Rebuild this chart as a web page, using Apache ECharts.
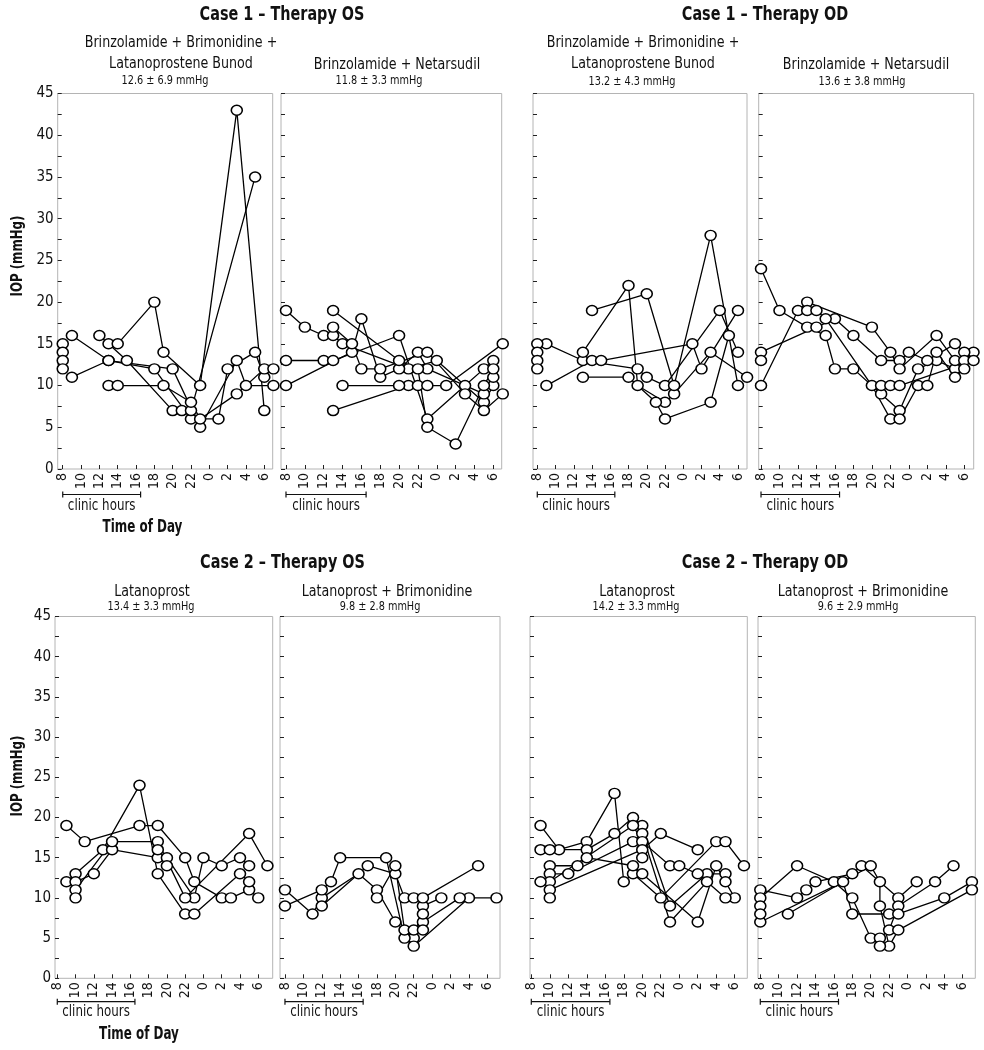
<!DOCTYPE html>
<html><head><meta charset="utf-8">
<script src="https://cdn.jsdelivr.net/npm/echarts@6/dist/echarts.min.js"></script>
<style>html,body{margin:0;padding:0;background:#fff}#c{width:984px;height:1050px}</style>
</head><body><div id="c"></div>
<script>
// ---------- tick labels / categories ----------
const hourTicks = [8,10,12,14,16,18,20,22,24,26,28,30];
const hourTickLabels = ['8','10','12','14','16','18','20','22','0','2','4','6'];
const clinicHours = [8, 16.5];
const caseTitles = ['Case 1 – Therapy OS','Case 1 – Therapy OD','Case 2 – Therapy OS','Case 2 – Therapy OD'];
const panelTitles = [
  ['Brinzolamide + Brimonidine +','Latanoprostene Bunod'],
  ['Brinzolamide + Netarsudil'],
  ['Brinzolamide + Brimonidine +','Latanoprostene Bunod'],
  ['Brinzolamide + Netarsudil'],
  ['Latanoprost'],
  ['Latanoprost + Brimonidine'],
  ['Latanoprost'],
  ['Latanoprost + Brimonidine']
];
const panelStats = ['12.6 ± 6.9 mmHg','11.8 ± 3.3 mmHg','13.2 ± 4.3 mmHg','13.6 ± 3.8 mmHg',
                    '13.4 ± 3.3 mmHg','9.8 ± 2.8 mmHg','14.2 ± 3.3 mmHg','9.6 ± 2.9 mmHg'];

// ---------- data: [hour (24 = midnight), IOP mmHg] ----------
const c1OsBblLines = [
  [[9,16],[13,13],[18,12],[22,6],[25,6],[26,12],[29,14],[30,11]],
  [[9,11],[13,13],[20,12],[23,5],[27,13],[28,10],[31,10]],
  [[13,15],[14,15],[18,20],[19,14],[23,10],[27,43],[30,7]],
  [[12,16],[15,13],[20,7],[21,7],[22,7],[29,35]],
  [[13,10],[14,10],[19,10],[22,8],[23,6],[27,9],[30,12],[31,12]]
];
const c1OsBblSingles = [[8,15],[8,14],[8,13],[8,12]];

const c1OsBnLines = [
  [[8,19],[10,17],[12,16],[13,16],[14,15],[21,12],[24,13],[29,8],[30,10]],
  [[8,13],[12,13],[13,13],[20,16],[23,6],[27,10],[29,12],[30,13]],
  [[8,10],[15,14],[16,18],[18,11],[20,12],[22,14],[23,12],[29,9],[30,11]],
  [[13,19],[20,13],[22,12],[23,5],[26,3],[29,10],[30,12]],
  [[13,17],[15,15],[16,12],[18,12],[23,14],[27,9],[29,7],[31,9]],
  [[13,7],[21,10],[22,10],[23,10],[25,10],[31,15]],
  [[14,10],[20,10]]
];
const c1OsBnSingles = [];

const c1OdBblLines = [
  [[9,15],[13,13],[19,12],[20,11],[22,10],[28,19],[30,14]],
  [[9,10],[14,13],[15,13],[25,15],[26,12],[30,19]],
  [[13,14],[18,22],[19,10],[22,8],[23,9],[27,14],[31,11]],
  [[14,19],[20,21],[23,10],[27,28],[30,10]],
  [[13,11],[18,11],[21,8],[22,6],[27,8],[29,16]]
];
const c1OdBblSingles = [[8,15],[8,14],[8,13],[8,12]];

const c1OdBnLines = [
  [[8,24],[10,19],[13,17],[15,16],[16,12],[18,12],[21,9],[23,7],[25,12],[27,13],[29,12],[31,14]],
  [[8,14],[14,17],[16,18],[18,16],[21,13],[23,13],[24,14],[26,13],[29,15],[30,14]],
  [[8,10],[12,19],[13,20],[20,17],[22,14],[23,12],[27,16],[29,13],[30,13]],
  [[13,19],[14,19],[15,18],[20,10],[22,6],[23,6],[25,10],[26,10],[27,14],[29,11],[30,12]],
  [[21,10],[22,10],[23,10],[31,13]]
];
const c1OdBnSingles = [[8,13]];

const c2OsLatLines = [
  [[9,19],[11,17],[17,19],[19,19],[22,15],[23,12],[26,10],[27,10],[29,11],[30,10]],
  [[9,12],[10,13],[13,16],[17,24],[19,13],[22,8],[23,8],[28,13],[29,12]],
  [[10,12],[12,13],[14,16],[19,15],[20,15],[23,10],[24,15],[26,14],[28,15],[29,14]],
  [[10,11],[14,17],[19,17],[22,10],[29,18],[31,14]],
  [[19,16],[20,14]]
];
const c2OsLatSingles = [[10,10]];

const c2OsLbLines = [
  [[8,11],[11,8],[12,10],[16,13],[18,11],[20,7],[22,5],[23,9],[25,10]],
  [[8,9],[12,11],[13,12],[14,15],[19,15],[21,5],[22,4],[28,10],[31,10]],
  [[12,9],[17,14],[20,13],[21,10],[22,10],[23,10],[29,14]],
  [[18,10],[20,14],[21,6],[22,6],[23,7],[27,10]]
];
const c2OsLbSingles = [[23,8],[23,6]];

const c2OdLatLines = [
  [[9,19],[11,16],[14,17],[17,23],[18,12],[19,13],[22,10],[28,17],[29,17],[31,14]],
  [[9,16],[10,16],[14,16],[17,18],[19,20],[20,19],[23,9],[27,13],[29,13]],
  [[10,14],[13,14],[14,15],[19,14],[20,13],[26,7],[28,14],[29,12],[30,10]],
  [[10,13],[12,13],[19,17],[20,18],[23,7],[27,12],[29,10]],
  [[10,12],[19,19],[20,17],[23,14],[24,14],[26,13]],
  [[10,11],[20,16],[22,18],[26,16]]
];
const c2OdLatSingles = [[9,12],[10,10],[20,15]];

const c2OdLbLines = [
  [[8,11],[12,10],[13,11],[14,12],[18,13],[19,14],[23,10],[25,12]],
  [[8,10],[12,14],[16,12],[18,10],[20,5],[21,5],[22,6],[23,9],[27,12],[29,14]],
  [[8,7],[17,12],[18,8],[22,8],[23,8],[28,10],[31,12]],
  [[11,8],[20,14],[21,12],[21,9],[22,4],[23,6],[31,11]]
];
const c2OdLbSingles = [[8,9],[8,8],[21,4]];

const panelLines = [c1OsBblLines,c1OsBnLines,c1OdBblLines,c1OdBnLines,c2OsLatLines,c2OsLbLines,c2OdLatLines,c2OdLbLines];
const panelSingles = [c1OsBblSingles,c1OsBnSingles,c1OdBblSingles,c1OdBnSingles,c2OsLatSingles,c2OsLbSingles,c2OdLatSingles,c2OdLbSingles];

// ---------- layout ----------
const FONT = "'Liberation Sans Narrow','DejaVu Sans Condensed','Roboto',sans-serif";
const grids = [
  {left:57.7, top:93.5, width:215,   height:375.5, xmin:7.45, xmax:30.92},
  {left:281,  top:93.5, width:220.7, height:375.5, xmin:7.47, xmax:30.89},
  {left:533,  top:93.5, width:214,   height:375.5, xmin:7.53, xmax:30.99},
  {left:758.7,top:93.5, width:215,   height:375.5, xmin:7.75, xmax:31.02},
  {left:55,   top:616.5,width:217.7, height:361.8, xmin:7.75, xmax:31.58},
  {left:280,  top:616.5,width:220,   height:361.8, xmin:7.46, xmax:31.38},
  {left:530,  top:616.5,width:217.3, height:361.8, xmin:7.86, xmax:31.36},
  {left:758,  top:616.5,width:217.3, height:361.8, xmin:7.75, xmax:31.37}
];
const titlePos = [[282,15],[765,15],[282.5,563],[765,563]];
const subPos = [ // [x of title, y of first line, x of stats, y of stats]
  [181,43,165,81],[397,65,379,81],[643,43,632,82],[866,65,862,82],
  [152,592,151,607],[387,592,380,607],[637,592,636,607],[863,592,858,607]
];

const chart = echarts.init(document.getElementById('c'), null, {renderer:'canvas'});
const option = {
  animation:false,
  backgroundColor:'#fff',
  grid: grids.map(g => ({left:g.left, top:g.top, width:g.width, height:g.height, show:true, borderColor:'#b4b4b4', borderWidth:1, containLabel:false})),
  xAxis: grids.map((g,i) => ({
    type:'value', gridIndex:i, min:g.xmin, max:g.xmax,
    axisLine:{show:false},
    splitLine:{show:false},
    axisTick:{show:true, inside:true, length:4, lineStyle:{color:'#222', width:1}, customValues:hourTicks},
    axisLabel:{show:true, rotate:90, margin:4, fontSize:14, fontFamily:FONT, color:'#111', customValues:hourTicks,
      formatter: v => hourTickLabels[hourTicks.indexOf(Math.round(v))] ?? ''}
  })),
  yAxis: grids.map((g,i) => ({
    type:'value', gridIndex:i, min:0, max:45, interval:2.5,
    axisLine:{show:false},
    splitLine:{show:false},
    axisTick:{show:true, inside:true, length:4, lineStyle:{color:'#222', width:1}},
    axisLabel:{show: i===0 || i===4, margin:4, fontSize:15, fontFamily:FONT, color:'#111',
      formatter: v => (Math.abs(v % 5) < 1e-6 ? String(v) : '')}
  })),
  series: []
};
panelLines.forEach((lines, i) => {
  lines.forEach(line => {
    option.series.push({type:'line', xAxisIndex:i, yAxisIndex:i, data:line, symbol:'none',
      clip:false, z:2, silent:true, lineStyle:{color:'#000', width:1.3}});
  });
  const pts = lines.flat().concat(panelSingles[i]);
  option.series.push({type:'scatter', xAxisIndex:i, yAxisIndex:i, data:pts, symbol:'circle',
    symbolSize:[11,10], clip:false, z:3, silent:true,
    itemStyle:{color:'#fff', borderColor:'#000', borderWidth:1.5, opacity:1}});
});
chart.setOption(option);

// ---------- text & annotations ----------
function txt(x, y, s, size, bold, sx, extra) {
  return Object.assign({type:'text', x:x, y:y, scaleX:sx || 1, silent:true, style:{text:s, fontSize:size, fontFamily:FONT,
    fontWeight: bold ? 'bold' : 'normal', fill:'#111', align:'center', verticalAlign:'middle',
    textAlign:'center', textVerticalAlign:'middle'}}, extra || {});
}
const gfx = [];
caseTitles.forEach((t,i) => gfx.push(txt(titlePos[i][0], titlePos[i][1], t, 20, true, 0.8)));
panelTitles.forEach((lines,i) => {
  const p = subPos[i];
  gfx.push(txt(p[0], p[1], lines[0], 16, false, 0.88));
  if (lines.length === 2) gfx.push(txt(p[0], p[1]+20.5, lines[1], 16, false, 0.88));
  gfx.push(txt(p[2], p[3], panelStats[i], 12, false, 0.9));
});
// IOP axis titles
gfx.push(txt(17.5, 256, 'IOP (mmHg)', 16, true, 0.82, {rotation: Math.PI/2}));
gfx.push(txt(17.5, 776, 'IOP (mmHg)', 16, true, 0.82, {rotation: Math.PI/2}));
// clinic hours brackets
grids.forEach((g,i) => {
  const a = chart.convertToPixel({xAxisIndex:i, yAxisIndex:i}, [clinicHours[0], 0]);
  const b = chart.convertToPixel({xAxisIndex:i, yAxisIndex:i}, [clinicHours[1], 0]);
  const by = i < 4 ? 494.5 : 1001.7;
  const ty = i < 4 ? 506.5 : 1012;
  const ls = {stroke:'#111', lineWidth:1.2};
  gfx.push({type:'line', silent:true, shape:{x1:a[0], y1:by, x2:b[0], y2:by}, style:ls});
  gfx.push({type:'line', silent:true, shape:{x1:a[0], y1:by-3, x2:a[0], y2:by+3}, style:ls});
  gfx.push({type:'line', silent:true, shape:{x1:b[0], y1:by-3, x2:b[0], y2:by+3}, style:ls});
  gfx.push(txt((a[0]+b[0])/2, ty, 'clinic hours', 15, false, 0.88));
});
gfx.push(txt(142.5, 528, 'Time of Day', 17, true, 0.78));
gfx.push(txt(139, 1034.5, 'Time of Day', 17, true, 0.78));
chart.setOption({graphic:{elements:gfx}});
</script>
</body></html>
